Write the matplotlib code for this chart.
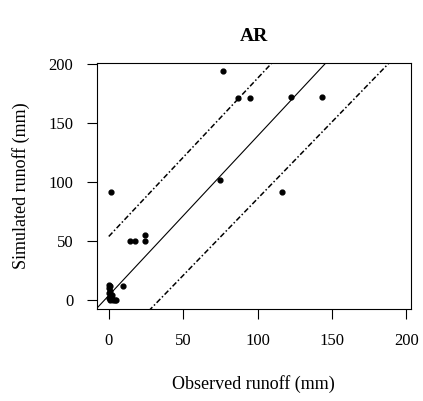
import matplotlib
matplotlib.use("Agg")
import matplotlib.pyplot as plt
import numpy as np

# observed vs simulated runoff (mm)
observed = [76.5, 86.8, 95.1, 75.0, 122.6, 143.4, 116.3, 1.8,
            14.1, 17.9, 24.2, 24.2, 9.6,
            0, 1, 0, 1, 0, 2, 0, 1, 3, 4, 5, 2]
simulated = [194, 171, 171, 101.7, 171.8, 171.8, 91.3, 91.3,
             50, 50, 55.3, 50, 12.1,
             13, 12, 10, 8, 6, 4, 2, 0, 0, 0, 0, 1]

# reference lines: (slope, intercept, x start, x end)
center_line = (1.35, 4.0, -8, 203)
upper_line = (1.34, 54.0, 0, 200)
lower_line = (1.30, -44.0, 0, 200)

ticks = [0, 50, 100, 150, 200]

plt.rcParams['font.family'] = ['Liberation Serif', 'DejaVu Serif']

fig = plt.figure(figsize=(4.23, 4.01), dpi=100)
ax = fig.add_axes([0.229, 0.229, 0.742, 0.614])

ax.scatter(observed, simulated, s=12, color='black', zorder=3)

def draw(line, **kw):
    b, a, x0, x1 = line
    xs = np.array([x0, x1])
    ax.plot(xs, a + b * xs, color='black', **kw)

draw(center_line, lw=0.8)
draw(upper_line, lw=1.1, ls='-.', dashes=(3.5, 1.5, 1, 1.5))
draw(lower_line, lw=1.1, ls='-.', dashes=(3.5, 1.5, 1, 1.5))

ax.set_xlim(-8, 203)
ax.set_ylim(-7.6, 201)
ax.set_xticks(ticks)
ax.set_yticks(ticks)
ax.tick_params(direction='out', length=7, width=0.8, labelsize=12, pad=10)
for s in ax.spines.values():
    s.set_linewidth(0.8)

ax.set_title('AR', fontsize=14, fontweight='bold', pad=16)
ax.set_xlabel('Observed runoff (mm)', fontsize=13, labelpad=19)
ax.set_ylabel('Simulated runoff (mm)', fontsize=13, labelpad=13)

fig.savefig('out.png', dpi=100)
